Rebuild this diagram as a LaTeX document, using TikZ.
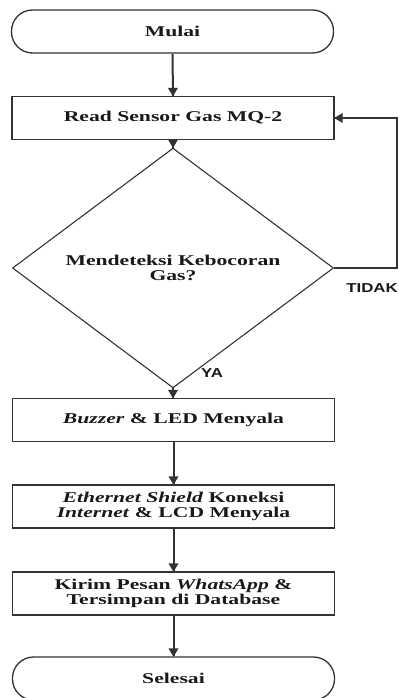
\documentclass[tikz,border=0pt]{standalone}
\usepackage{fontspec}
\setmainfont{Liberation Serif}[FakeStretch=1.45]
\newfontfamily\labfont{Liberation Sans}[FakeStretch=1.3]
\usetikzlibrary{arrows.meta,shapes.geometric,decorations.markings}
\tikzset{
  box/.style={draw=black!80, line width=1.3bp, minimum width=322bp, minimum height=43bp,
    inner sep=0pt, align=center, text=black!90,
    font=\bfseries\fontsize{15}{14.5}\selectfont},
  term/.style={box, rounded corners=21bp},
  dec/.style={draw=black!80, line width=1.1bp, diamond, minimum width=321bp, minimum height=174bp,
    inner sep=0pt, align=center, text=black!90,
    font=\bfseries\fontsize{15}{14.5}\selectfont},
  headmark/.style={postaction={decorate}, decoration={markings,
    mark=at position 1 with {\fill[black!80] (0.5bp,0) -- (-8bp,5bp) -- (-8bp,-5bp) -- cycle;}}},
  arr/.style={line width=2bp, draw=black!80, headmark},
  loopline/.style={line width=1.2bp, draw=black!80, headmark},
  lab/.style={font=\labfont\bfseries\fontsize{13}{13}\selectfont, text=black!90, inner sep=0pt}
}
\begin{document}
\begin{tikzpicture}[x=1bp,y=1bp]
\useasboundingbox (0,0) rectangle (398,-698);
\node[term] (start) at (172.5,-31.5) {Mulai};
\node[box] (read) at (173,-118) {Read Sensor Gas MQ-2};
\node[dec] (dec) at (173,-268) {Mendeteksi Kebocoran\\Gas?};
\node[box] (buzz) at (173.5,-420) {\textit{Buzzer} \& LED Menyala};
\node[box] (eth) at (173.5,-506.5) {\textit{Ethernet Shield} Koneksi\\\textit{Internet} \& LCD Menyala};
\node[box] (send) at (173.5,-593.5) {Kirim Pesan \textit{WhatsApp} \&\\Tersimpan di Database};
\node[term] (end) at (173.5,-678.5) {Selesai};
\coordinate (c1) at (397,-268);
\coordinate (c2) at (397,-118);
\draw[arr] (start.south) -- (read.north);
\draw[arr] (read.south) -- (dec.north);
\draw[arr] (dec.south) -- (dec.south |- buzz.north);
\draw[arr] (buzz.south) -- (eth.north);
\draw[arr] (eth.south) -- (send.north);
\draw[arr] (send.south) -- (end.north);
\draw[loopline] (dec.east) -- (c1) -- (c2) -- (read.east);
\node[lab] (ya) at (212,-373) {YA};
\node[lab] (tidak) at (372,-288) {TIDAK};
\end{tikzpicture}
\end{document}
